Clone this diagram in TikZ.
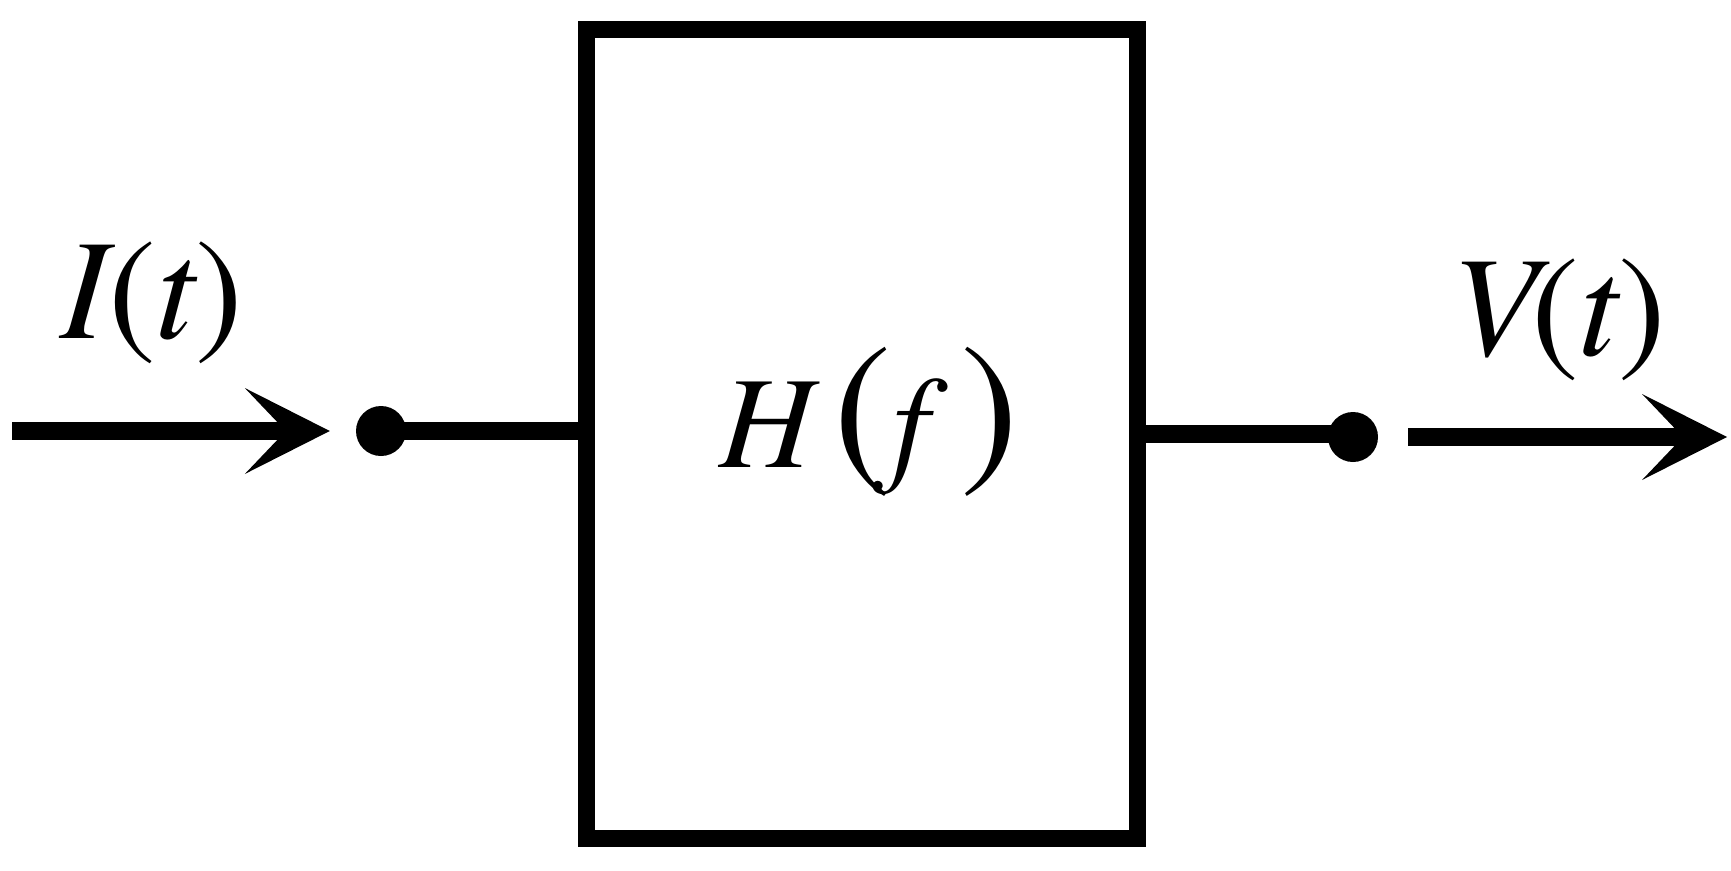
\documentclass[tikz,border=0pt]{standalone}
\usepackage{fontspec}
\setmainfont{texgyretermes}[Extension=.otf,UprightFont=*-regular,ItalicFont=*-italic,BoldFont=*-bold,BoldItalicFont=*-bolditalic]
\usetikzlibrary{arrows.meta}
\newcommand{\bigpar}[1]{\raisebox{2pt}{\fontsize{175pt}{195pt}\selectfont\upshape#1}}
\tikzset{
  wire/.style={line width=18pt},
  bigarrow/.style={wire,-{Stealth[length=85pt,width=86pt,inset=41pt,line width=0pt]}},
  terminal/.style={circle,fill=black,inner sep=0pt,minimum size=50pt},
  blockbox/.style={draw=black,line width=17pt,inner sep=0pt,minimum width=551pt,minimum height=809pt},
  lbl/.style={inner sep=0pt,font=\fontsize{143pt}{165pt}\selectfont},
}
\begin{document}
\begin{tikzpicture}[x=1pt,y=-1pt]
\useasboundingbox[fill=white] (0,0) rectangle (1731,870);
\node[blockbox] (box) at (862,434) {};
\node[inner sep=0pt,anchor=base,font=\fontsize{131pt}{150pt}\selectfont] (hf) at (869,467)
  {\itshape H\hspace{20pt}\bigpar{(}\hspace{0pt}f\hspace{32pt}\bigpar{)}};
\node[terminal] (d1) at (381,431) {};
\node[terminal] (d2) at (1353,437) {};
\coordinate (inL) at (12,431);
\coordinate (outR) at (1727,437);
\draw[bigarrow,shorten >=26pt] (inL) -- (d1);
\draw[wire] (d1.center) -- (box.west |- d1);
\draw[wire] (box.east) -- (box.east -| d2);
\draw[bigarrow,shorten <=30pt] (d2) -- (outR);
\node[lbl,anchor=base] (it) at (152,338) {{\itshape I}({\itshape t})};
\node[lbl,anchor=base] (vt) at (1559,355) {{\itshape V}\kern-8pt({\itshape t})};
\end{tikzpicture}
\end{document}
